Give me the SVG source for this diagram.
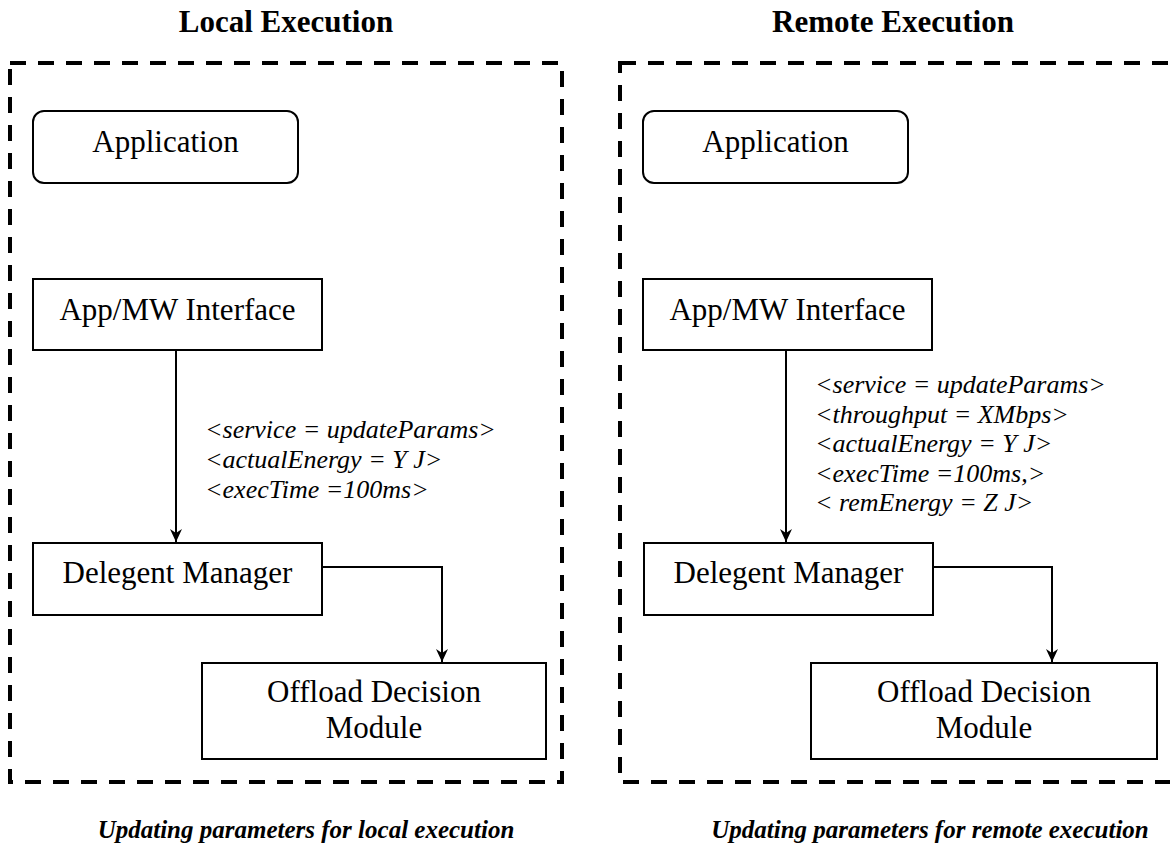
<svg xmlns="http://www.w3.org/2000/svg" width="1170" height="854" viewBox="0 0 1170 854">
  <style>
    .frame { fill: none; stroke: #000; stroke-width: 4; stroke-dasharray: 16 12; }
    .box { fill: #fff; stroke: #000; stroke-width: 2; }
    .label { font-family: "Liberation Serif", "Times New Roman", serif; font-size: 31px; fill: #000; text-anchor: middle; }
    .param { font-family: "Liberation Serif", "Times New Roman", serif; font-size: 26px; font-style: italic; fill: #000; }
    .title { font-family: "Liberation Serif", "Times New Roman", serif; font-size: 31px; font-weight: bold; fill: #000; text-anchor: middle; }
    .caption { font-family: "Liberation Serif", "Times New Roman", serif; font-size: 25px; font-weight: bold; font-style: italic; fill: #000; text-anchor: middle; }
    .link { fill: none; stroke: #000; stroke-width: 2; }
  </style>
  <defs>
    <marker id="arrow" markerUnits="userSpaceOnUse" markerWidth="14" markerHeight="12" refX="13" refY="6" orient="auto">
      <path d="M0,0 L13,6 L0,12 L4,6 z" fill="#000"/>
    </marker>
  </defs>

  <rect width="1170" height="854" fill="#fff"/>

  <!-- panel headings -->
  <text class="title" x="286" y="32">Local Execution</text>
  <text class="title" x="893" y="32">Remote Execution</text>

  <!-- dashed panel frames -->
  <rect class="frame" x="10" y="63" width="552" height="719"/>
  <rect class="frame" x="620" y="63" width="560" height="719"/>

  <!-- local panel -->
  <g id="local-application">
    <rect class="box" x="33" y="111" width="265" height="72" rx="11"/>
    <text class="label" x="165.5" y="152">Application</text>
  </g>
  <g id="local-interface">
    <rect class="box" x="33" y="279" width="289" height="71"/>
    <text class="label" x="177.5" y="320">App/MW Interface</text>
  </g>
  <g id="local-manager">
    <rect class="box" x="33" y="543" width="289" height="72"/>
    <text class="label" x="177.5" y="583">Delegent Manager</text>
  </g>
  <g id="local-offload">
    <rect class="box" x="202" y="663" width="344" height="96"/>
    <text class="label" x="374" y="702">Offload Decision</text>
    <text class="label" x="374" y="738">Module</text>
  </g>

  <!-- remote panel -->
  <g id="remote-application">
    <rect class="box" x="643" y="111" width="265" height="72" rx="11"/>
    <text class="label" x="775.5" y="152">Application</text>
  </g>
  <g id="remote-interface">
    <rect class="box" x="643" y="279" width="289" height="71"/>
    <text class="label" x="787.5" y="320">App/MW Interface</text>
  </g>
  <g id="remote-manager">
    <rect class="box" x="644" y="543" width="289" height="72"/>
    <text class="label" x="788.5" y="583">Delegent Manager</text>
  </g>
  <g id="remote-offload">
    <rect class="box" x="811" y="663" width="346" height="96"/>
    <text class="label" x="984" y="702">Offload Decision</text>
    <text class="label" x="984" y="738">Module</text>
  </g>

  <!-- connectors -->
  <g id="connectors">
    <path class="link" d="M176,350 L176,542" marker-end="url(#arrow)"/>
    <path class="link" d="M322,567 L442,567 L442,662" marker-end="url(#arrow)"/>
    <path class="link" d="M786,350 L786,542" marker-end="url(#arrow)"/>
    <path class="link" d="M933,567 L1052,567 L1052,662" marker-end="url(#arrow)"/>
  </g>

  <!-- parameter labels -->
  <g id="local-params" class="param">
    <text x="205" y="438">&lt;service = updateParams&gt;</text>
    <text x="205" y="468">&lt;actualEnergy = Y J&gt;</text>
    <text x="205" y="498">&lt;execTime =100ms&gt;</text>
  </g>
  <g id="remote-params" class="param">
    <text x="815" y="393">&lt;service = updateParams&gt;</text>
    <text x="815" y="422.5">&lt;throughput = XMbps&gt;</text>
    <text x="815" y="452">&lt;actualEnergy = Y J&gt;</text>
    <text x="815" y="481.5">&lt;execTime =100ms,&gt;</text>
    <text x="815" y="511">&lt; remEnergy = Z J&gt;</text>
  </g>

  <!-- captions -->
  <text class="caption" x="306" y="838">Updating parameters for local execution</text>
  <text class="caption" x="930" y="838">Updating parameters for remote execution</text>
</svg>
